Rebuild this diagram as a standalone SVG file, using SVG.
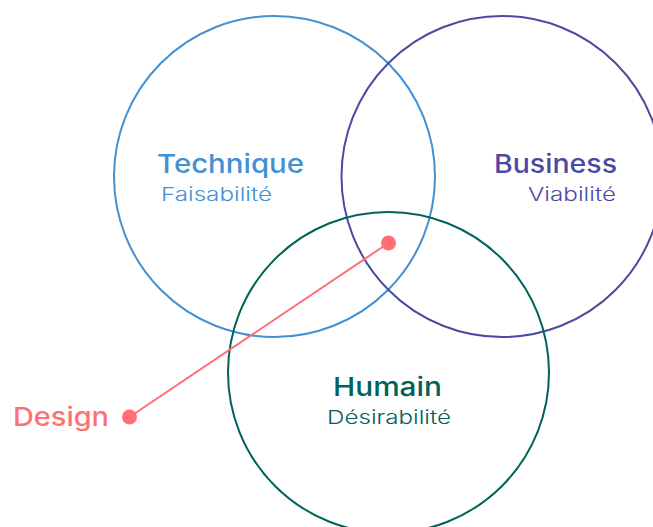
<svg xmlns="http://www.w3.org/2000/svg" width="653" height="527" viewBox="0 0 653 527">
<style>
.c{fill:none;stroke-width:2}
.t{font-family:Inter,"Open Sans","Liberation Sans",sans-serif;font-size:26px;font-weight:500}
.s{font-family:Inter,"Open Sans","Liberation Sans",sans-serif;font-size:18.5px;font-weight:300}
</style>
<rect width="653" height="527" fill="#ffffff"/>
<g id="technique">
<circle class="c" cx="274.5" cy="176.5" r="160.5" stroke="#4390D2"/>
<text class="t" x="157" y="173" fill="#4390D2" textLength="147" lengthAdjust="spacingAndGlyphs">Technique</text>
<text class="s" x="161" y="201" fill="#4390D2" textLength="111" lengthAdjust="spacingAndGlyphs">Faisabilité</text>
</g>
<g id="business">
<circle class="c" cx="502" cy="176.5" r="160.5" stroke="#4A4AA2"/>
<text class="t" x="494" y="173" fill="#4A4AA2" textLength="123" lengthAdjust="spacingAndGlyphs">Business</text>
<text class="s" x="528" y="201" fill="#4A4AA2" textLength="88" lengthAdjust="spacingAndGlyphs">Viabilité</text>
</g>
<g id="humain">
<circle class="c" cx="388.5" cy="372.5" r="160.5" stroke="#00625A"/>
<text class="t" x="333" y="396" fill="#00625A" textLength="109" lengthAdjust="spacingAndGlyphs">Humain</text>
<text class="s" x="327" y="424" fill="#00625A" textLength="124" lengthAdjust="spacingAndGlyphs">Désirabilité</text>
</g>
<g id="design">
<text class="t" x="13" y="426" fill="#FF7074" textLength="96" lengthAdjust="spacingAndGlyphs">Design</text>
<circle cx="129.5" cy="417" r="7.5" fill="#FF7074"/>
<circle cx="388.5" cy="243" r="7.5" fill="#FF7074"/>
</g>
<g id="connectors">
<line x1="129.5" y1="417" x2="388.5" y2="243" stroke="#FF7074" stroke-width="2"/>
</g>
</svg>
